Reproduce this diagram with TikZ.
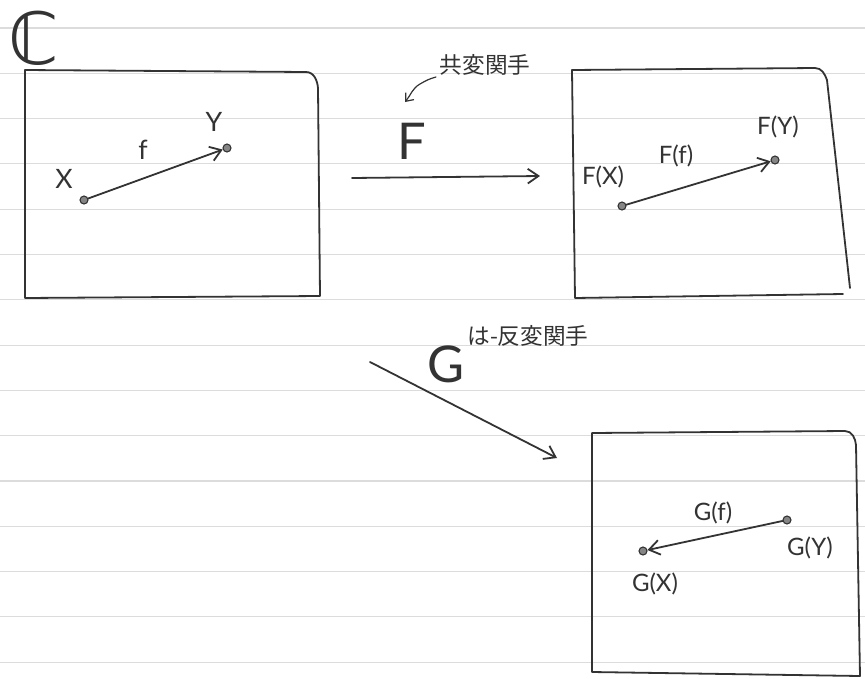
\documentclass[tikz,border=0pt]{standalone}
\usepackage{fontspec}
\setmainfont{Lato}
\newfontfamily\jp{Noto Sans CJK JP}
\newfontfamily\djv{DejaVu Sans}
\usetikzlibrary{arrows.meta}
\definecolor{ink}{HTML}{333333}
\definecolor{paperline}{HTML}{DCDCDC}
\begin{document}
\begin{tikzpicture}[x=0.75pt,y=-0.75pt,
  pen/.style={draw=ink,line width=1.35pt,line cap=round,line join=round},
  arr/.style={pen,-{Straight Barb[length=8pt,width=11pt]}},
  thinarr/.style={draw=ink,line width=0.9pt,line cap=round,-{Straight Barb[length=5pt,width=8pt]}},
  dot/.style={circle,fill=ink!60,draw=ink,line width=0.8pt,inner sep=0pt,minimum size=6pt},
  lbl/.style={text=ink,inner sep=0pt,font=\fontsize{20}{20}\selectfont},
  lblb/.style={text=ink,inner sep=0pt,font=\fontsize{18}{18}\selectfont},
  big/.style={text=ink,inner sep=0pt,font=\fontsize{38}{38}\selectfont},
  jlbl/.style={text=ink,inner sep=0pt,font=\jp\fontsize{17}{17}\selectfont}]
\useasboundingbox (0,0) rectangle (865,679);
\fill[white] (0,0) rectangle (865,679);
% ruled paper
\foreach \k in {0,...,14}{
  \draw[paperline,line width=0.8pt] (0,{28+45.3*\k}) -- (865,{28+45.3*\k});
}
% category C
\node[text=ink,inner sep=0pt,font=\djv\fontsize{54}{54}\selectfont] (cat) at (34,38) {ℂ};
\draw[pen] (25,298) -- (25,70) -- (306,72) to[out=0,in=95] (318,88) -- (320,296) -- (25,298);
% right boxes
\draw[pen] (843,294) -- (575,298) -- (572,70) -- (815,68) to[out=0,in=110] (827,80) -- (850,288);
\draw[pen] (592,672) -- (592,433) -- (845,431) to[out=0,in=95] (856,445) -- (860,676) -- (592,672);
% objects in C
\node[dot] (x) at (84,200) {};
\node[dot] (y) at (227,148) {};
\node[lbl] (xl) at (64,179) {X};
\node[lbl] (yl) at (214,122) {Y};
\node[lbl] (fl) at (143,150) {f};
\draw[arr] (x) -- (y);
% functor F
\coordinate (fs) at (352,178);
\coordinate (fe) at (540,176);
\draw[arr] (fs) -- (fe);
\node[big] (F) at (412,141) {F};
\node[jlbl] (cov) at (485,65) {共変関手};
\coordinate (cs) at (436,77);
\coordinate (ce) at (405,102);
\draw[thinarr] (cs) to[out=195,in=30] (420,84) to[out=210,in=50] (ce);
% image under F
\node[dot] (fx) at (622,206) {};
\node[dot] (fy) at (775,160) {};
\node[lblb] (fxl) at (603,177) {F(X)};
\node[lblb] (ffl) at (676,156) {F(f)};
\node[lblb] (fyl) at (778,127) {F(Y)};
\draw[arr] (fx) -- (fy);
% functor G
\coordinate (gs) at (370,362);
\coordinate (ge) at (557,458);
\draw[arr] (gs) -- (ge);
\node[big] (G) at (446,364) {G};
\node[jlbl] (contra) at (528,336) {は-反変関手};
% image under G
\node[dot] (gy) at (787,520) {};
\node[dot] (gx) at (643,551) {};
\node[lblb] (gfl) at (713,513) {G(f)};
\node[lblb] (gyl) at (810,548) {G(Y)};
\node[lblb] (gxl) at (655,584) {G(X)};
\draw[arr] (gy) -- (gx);
\end{tikzpicture}
\end{document}
